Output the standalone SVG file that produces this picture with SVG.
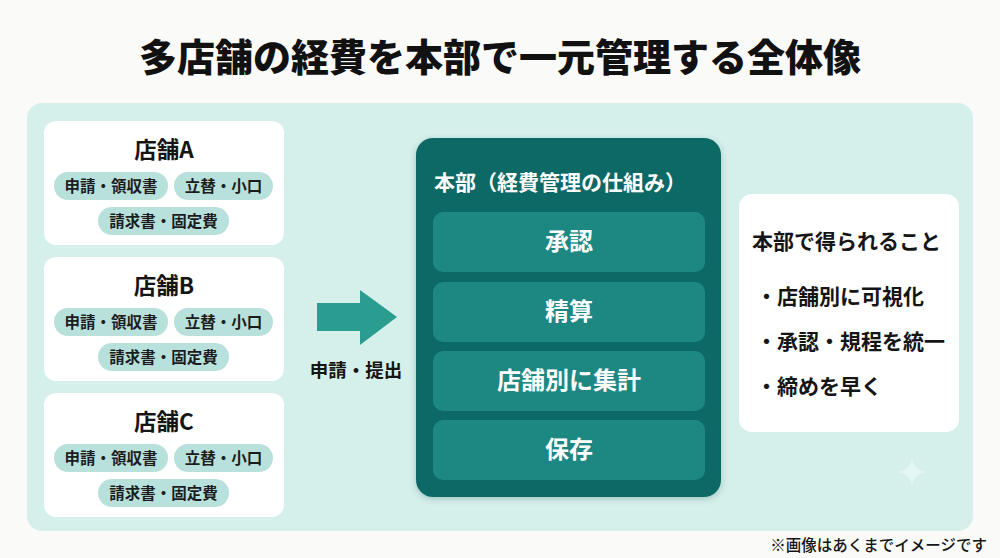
<svg xmlns="http://www.w3.org/2000/svg" width="1000" height="558" viewBox="0 0 1000 558">
<defs>
<style>
text{font-family:"Noto Sans CJK JP","Noto Sans",sans-serif;}
.title{font-size:38px;font-weight:900;fill:#111;}
.store{fill:#ffffff;}
.stitle{font-size:22.5px;font-weight:700;fill:#151515;}
.chip{fill:#b9e1dc;}
.ctext{font-size:15.5px;font-weight:700;fill:#1c1c1c;}
.hq{fill:#0f6966;}
.step{fill:#1d8782;}
.stext{font-size:24px;font-weight:700;fill:#ffffff;}
.htitle{font-size:21px;font-weight:700;fill:#ffffff;}
.rtext{font-size:21px;font-weight:700;fill:#151515;}
</style>
<filter id="sh" x="-10%" y="-10%" width="120%" height="120%">
<feDropShadow dx="0" dy="2" stdDeviation="3" flood-color="#0b4a48" flood-opacity="0.25"/>
</filter>
</defs>
<rect width="1000" height="558" fill="#fafaf8"/>
<text class="title" x="500" y="71" text-anchor="middle">多店舗の経費を本部で一元管理する全体像</text>
<rect x="27" y="103" width="946" height="428" rx="15" fill="#d5efeb"/>
<path d="M912 458 Q914 470 926 472 Q914 474 912 486 Q910 474 898 472 Q910 470 912 458 Z" fill="#e4f6f3"/>

<g id="storeA">
<rect class="store" x="44" y="121" width="240" height="124" rx="12"/>
<text class="stitle" x="164" y="158" text-anchor="middle">店舗A</text>
<rect class="chip" x="54" y="172" width="114" height="28" rx="14"/>
<text class="ctext" x="111" y="191.5" text-anchor="middle">申請・領収書</text>
<rect class="chip" x="174" y="172" width="99" height="28" rx="14"/>
<text class="ctext" x="223.5" y="191.5" text-anchor="middle">立替・小口</text>
<rect class="chip" x="98" y="207" width="131" height="28" rx="14"/>
<text class="ctext" x="163.5" y="226.5" text-anchor="middle">請求書・固定費</text>
</g>
<g id="storeB">
<rect class="store" x="44" y="257" width="240" height="124" rx="12"/>
<text class="stitle" x="164" y="294" text-anchor="middle">店舗B</text>
<rect class="chip" x="54" y="308" width="114" height="28" rx="14"/>
<text class="ctext" x="111" y="327.5" text-anchor="middle">申請・領収書</text>
<rect class="chip" x="174" y="308" width="99" height="28" rx="14"/>
<text class="ctext" x="223.5" y="327.5" text-anchor="middle">立替・小口</text>
<rect class="chip" x="98" y="343" width="131" height="28" rx="14"/>
<text class="ctext" x="163.5" y="362.5" text-anchor="middle">請求書・固定費</text>
</g>
<g id="storeC">
<rect class="store" x="44" y="393" width="240" height="124" rx="12"/>
<text class="stitle" x="164" y="430" text-anchor="middle">店舗C</text>
<rect class="chip" x="54" y="444" width="114" height="28" rx="14"/>
<text class="ctext" x="111" y="463.5" text-anchor="middle">申請・領収書</text>
<rect class="chip" x="174" y="444" width="99" height="28" rx="14"/>
<text class="ctext" x="223.5" y="463.5" text-anchor="middle">立替・小口</text>
<rect class="chip" x="98" y="479" width="131" height="28" rx="14"/>
<text class="ctext" x="163.5" y="498.5" text-anchor="middle">請求書・固定費</text>
</g>

<g id="connectors">
<polygon points="317,303 360,303 360,290 397,317 360,345 360,331 317,331" fill="#2a9d90"/>
<text x="356" y="377" text-anchor="middle" font-size="18.5" font-weight="700" fill="#151515">申請・提出</text>
</g>

<g id="hq">
<rect class="hq" x="416" y="138" width="305" height="359" rx="17" filter="url(#sh)"/>
<text class="htitle" x="434" y="190">本部（経費管理の仕組み）</text>
<rect class="step" x="433" y="212" width="272" height="60" rx="10"/>
<text class="stext" x="569" y="250" text-anchor="middle">承認</text>
<rect class="step" x="433" y="282" width="272" height="60" rx="10"/>
<text class="stext" x="569" y="320" text-anchor="middle">精算</text>
<rect class="step" x="433" y="351" width="272" height="60" rx="10"/>
<text class="stext" x="569" y="389" text-anchor="middle">店舗別に集計</text>
<rect class="step" x="433" y="420" width="272" height="60" rx="10"/>
<text class="stext" x="569" y="458" text-anchor="middle">保存</text>
</g>

<g id="benefits">
<rect class="store" x="739" y="194" width="220" height="238" rx="13"/>
<text class="rtext" x="752" y="249">本部で得られること</text>
<text class="rtext" x="756" y="304">・店舗別に可視化</text>
<text class="rtext" x="756" y="349">・承認・規程を統一</text>
<text class="rtext" x="756" y="394">・締めを早く</text>
</g>

<text x="987" y="551" text-anchor="end" font-size="15.5" font-weight="500" fill="#151515">※画像はあくまでイメージです</text>
</svg>
